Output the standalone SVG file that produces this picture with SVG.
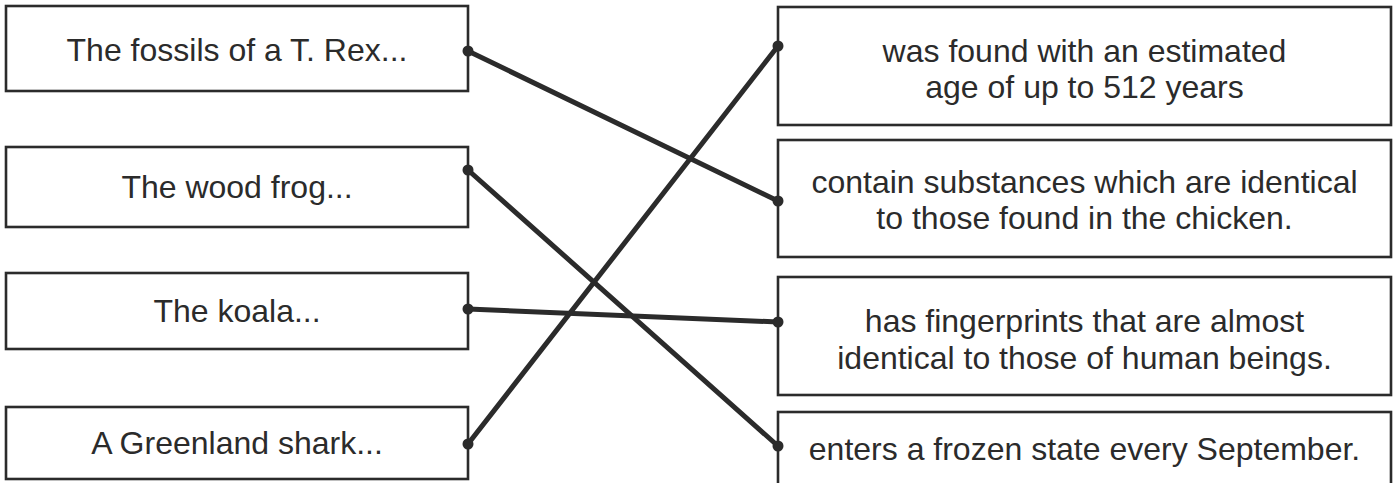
<svg xmlns="http://www.w3.org/2000/svg" width="1398" height="483" viewBox="0 0 1398 483">
<style>
.box{fill:#fff;stroke:#2b2b2b;stroke-width:2.6}
.t{font-family:"Liberation Sans",Arial,sans-serif;font-size:32px;fill:#2b2b2b;text-anchor:middle}
.c{stroke:#2b2b2b;stroke-width:5;stroke-linecap:round;fill:none}
.d{fill:#2b2b2b}
</style>
<rect width="1398" height="483" fill="#fff"/>
<g id="left1"><rect class="box" x="6" y="6" width="462" height="85"/><text class="t" x="237" y="61">The fossils of a T. Rex...</text></g>
<g id="left2"><rect class="box" x="6" y="147" width="462" height="80"/><text class="t" x="237" y="198">The wood frog...</text></g>
<g id="left3"><rect class="box" x="6" y="273" width="462" height="76"/><text class="t" x="237" y="322">The koala...</text></g>
<g id="left4"><rect class="box" x="6" y="407" width="462" height="72"/><text class="t" x="237" y="454">A Greenland shark...</text></g>
<g id="rightA"><rect class="box" x="778" y="7" width="613" height="118"/><text class="t" x="1084.5" y="62">was found with an estimated</text><text class="t" x="1084.5" y="98">age of up to 512 years</text></g>
<g id="rightB"><rect class="box" x="778" y="140" width="613" height="117"/><text class="t" x="1084.5" y="193">contain substances which are identical</text><text class="t" x="1084.5" y="229">to those found in the chicken.</text></g>
<g id="rightC"><rect class="box" x="778" y="277" width="613" height="118"/><text class="t" x="1084.5" y="332">has fingerprints that are almost</text><text class="t" x="1084.5" y="369">identical to those of human beings.</text></g>
<g id="rightD"><rect class="box" x="778" y="412" width="613" height="118"/><text class="t" x="1084.5" y="460">enters a frozen state every September.</text></g>
<g id="connectors">
<line class="c" x1="468" y1="51" x2="778" y2="201"/>
<line class="c" x1="468" y1="170" x2="778" y2="446"/>
<line class="c" x1="468" y1="309" x2="778" y2="322"/>
<line class="c" x1="468" y1="444" x2="778" y2="46"/>
<circle class="d" cx="468" cy="51" r="5.5"/>
<circle class="d" cx="468" cy="170" r="5.5"/>
<circle class="d" cx="468" cy="309" r="5.5"/>
<circle class="d" cx="468" cy="444" r="5.5"/>
<circle class="d" cx="778" cy="46" r="5.5"/>
<circle class="d" cx="778" cy="201" r="5.5"/>
<circle class="d" cx="778" cy="322" r="5.5"/>
<circle class="d" cx="778" cy="446" r="5.5"/>
</g>
</svg>
